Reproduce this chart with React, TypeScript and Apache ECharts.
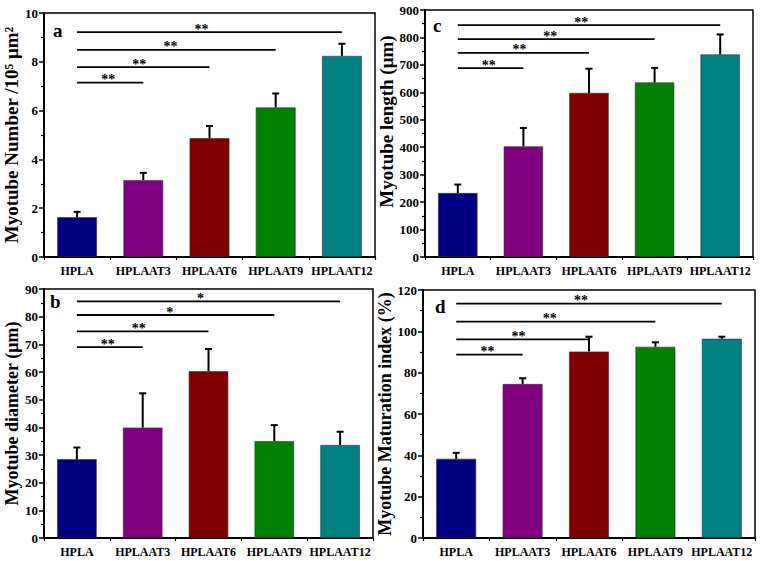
import React, { useEffect, useRef } from "react";
import * as echarts from "echarts";

const categories = ["HPLA", "HPLAAT3", "HPLAAT6", "HPLAAT9", "HPLAAT12"];
const barColors = ["#000080", "#800080", "#800000", "#008000", "#008080"];

// panel a: myotube number
const numberMean = [1.63, 3.15, 4.87, 6.13, 8.24];
const numberErr = [0.22, 0.3, 0.5, 0.57, 0.5];
const numberSigY = [7.15, 7.78, 8.49, 9.22];
const numberSigLabel = ["**", "**", "**", "**"];

// panel c: myotube length
const lengthMean = [233, 403, 598, 636, 738];
const lengthErr = [31, 67, 88, 53, 73];
const lengthSigY = [688, 744, 794, 845];
const lengthSigLabel = ["**", "**", "**", "**"];

// panel b: myotube diameter
const diameterMean = [28.5, 39.9, 60.3, 35.0, 33.6];
const diameterErr = [4.2, 12.4, 8.0, 5.8, 4.8];
const diameterSigY = [69.0, 74.7, 80.6, 85.5];
const diameterSigLabel = ["**", "**", "*", "*"];

// panel d: maturation index
const maturationMean = [38.3, 74.5, 90.2, 92.5, 96.4];
const maturationErr = [2.9, 2.8, 7.2, 2.2, 1.0];
const maturationSigY = [88.7, 96.1, 104.7, 113.4];
const maturationSigLabel = ["**", "**", "**", "**"];

// significance lines all start at HPLA (index 0) and end at these categories
const sigTargets = [1, 2, 3, 4];

const FONT = "Liberation Serif, Times New Roman, serif";

const panels = [
  {
    letter: "a", name: "Myotube Number /10\u2075 \u03bcm\u00b2",
    mean: numberMean, err: numberErr, sigY: numberSigY, sigLabel: numberSigLabel,
    max: 10, interval: 2,
    grid: { left: 44, top: 13, width: 331, height: 244 },
    nameGap: 18, nameSize: 19, namePad: [0, 0, 0, 0], letterPos: [53, 31],
  },
  {
    letter: "c", name: "Myotube length (\u03bcm)",
    mean: lengthMean, err: lengthErr, sigY: lengthSigY, sigLabel: lengthSigLabel,
    max: 900, interval: 100,
    grid: { left: 425, top: 10, width: 328, height: 247 },
    nameGap: 29, nameSize: 19, namePad: [0, 0, 0, 24], letterPos: [433, 26],
  },
  {
    letter: "b", name: "Myotube diameter (\u03bcm)",
    mean: diameterMean, err: diameterErr, sigY: diameterSigY, sigLabel: diameterSigLabel,
    max: 90, interval: 10,
    grid: { left: 44, top: 289, width: 329, height: 249 },
    nameGap: 20, nameSize: 18, namePad: [0, 0, 0, 0], letterPos: [50, 302],
  },
  {
    letter: "d", name: "Myotube Maturation index (%)",
    mean: maturationMean, err: maturationErr, sigY: maturationSigY, sigLabel: maturationSigLabel,
    max: 120, interval: 20,
    grid: { left: 423, top: 290, width: 332, height: 248 },
    nameGap: 28, nameSize: 18, namePad: [0, 0, 0, 0], letterPos: [435, 307],
  },
];

function buildOption() {
  const grid: any[] = [];
  const xAxis: any[] = [];
  const yAxis: any[] = [];
  const series: any[] = [];
  const graphic: any[] = [];

  panels.forEach((p, gi) => {
    grid.push({ ...p.grid, show: true, borderColor: "#000", borderWidth: 1.5, backgroundColor: "transparent" });
    xAxis.push({
      type: "category", gridIndex: gi, data: categories, position: "bottom",
      axisLine: { lineStyle: { color: "#000", width: 2 } },
      axisTick: { alignWithLabel: true, length: 5, lineStyle: { color: "#000", width: 1.5 } },
      axisLabel: { interval: 0, color: "#000", fontFamily: FONT, fontWeight: "bold", fontSize: 12, margin: 8 },
      splitLine: { show: false },
    });
    xAxis.push({
      type: "category", gridIndex: gi, data: categories, position: "bottom",
      axisLine: { show: false },
      axisTick: { show: true, interval: 0, length: 3, lineStyle: { color: "#000", width: 1.2 } },
      axisLabel: { show: false },
      splitLine: { show: false },
    });
    yAxis.push({
      type: "value", gridIndex: gi, min: 0, max: p.max, interval: p.interval,
      name: p.name, nameLocation: "middle", nameGap: p.nameGap,
      nameTextStyle: { color: "#000", fontFamily: FONT, fontWeight: "bold", fontSize: p.nameSize, padding: p.namePad },
      axisLine: { show: true, lineStyle: { color: "#000", width: 2 } },
      axisTick: { show: true, length: 5, lineStyle: { color: "#000", width: 1.5 } },
      minorTick: { show: true, splitNumber: 2, length: 3, lineStyle: { color: "#000", width: 1.2 } },
      axisLabel: { color: "#000", fontFamily: FONT, fontWeight: "bold", fontSize: 13, margin: 6 },
      splitLine: { show: false },
    });
    const xi = gi * 2;
    series.push({
      type: "bar", xAxisIndex: xi, yAxisIndex: gi, barWidth: "60%",
      data: p.mean.map((v, i) => ({ value: v, itemStyle: { color: barColors[i], borderColor: "#333", borderWidth: 0.6 } })),
    });
    series.push({
      type: "custom", xAxisIndex: xi, yAxisIndex: gi, clip: false, z: 5,
      encode: { x: 0, y: [1, 2] },
      data: p.mean.map((v, i) => [i, v, v + p.err[i]]),
      renderItem: (params: any, api: any) => {
        const i = api.value(0);
        const p0 = api.coord([i, api.value(1)]);
        const p1 = api.coord([i, api.value(2)]);
        const hw = 3.5;
        const st = { stroke: "#000", lineWidth: 2 };
        return {
          type: "group",
          children: [
            { type: "line", shape: { x1: p0[0], y1: p0[1], x2: p1[0], y2: p1[1] }, style: st },
            { type: "line", shape: { x1: p1[0] - hw, y1: p1[1], x2: p1[0] + hw, y2: p1[1] }, style: st },
          ],
        };
      },
    });
    series.push({
      type: "custom", xAxisIndex: xi, yAxisIndex: gi, clip: false, z: 5,
      encode: { x: [0, 1], y: 2 },
      data: sigTargets.map((t, k) => [0, t, p.sigY[k]]),
      renderItem: (params: any, api: any) => {
        const a = api.coord([api.value(0), api.value(2)]);
        const b = api.coord([api.value(1), api.value(2)]);
        const label = p.sigLabel[params.dataIndex];
        return {
          type: "group",
          children: [
            { type: "line", shape: { x1: a[0], y1: a[1], x2: b[0], y2: b[1] }, style: { stroke: "#000", lineWidth: 1.8 } },
            {
              type: "text", x: a[0] + (b[0] - a[0]) * 0.47, y: a[1] - 3,
              style: {
                text: label, fontFamily: FONT, fontWeight: "bold", fontSize: 14, fill: "#000",
                align: "center", verticalAlign: "middle",
              },
            },
          ],
        };
      },
    });
    graphic.push({
      type: "text", left: p.letterPos[0], top: p.letterPos[1] - 10,
      style: { text: p.letter, fontFamily: FONT, fontWeight: "bold", fontSize: 19, fill: "#000" },
    });
  });

  return { animation: false, backgroundColor: "#fff", grid, xAxis, yAxis, series, graphic };
}

export default function App() {
  const ref = useRef<HTMLDivElement>(null);
  useEffect(() => {
    if (!ref.current) return;
    const chart = echarts.init(ref.current, undefined, { renderer: "svg" });
    chart.setOption(buildOption() as any);
    return () => chart.dispose();
  }, []);
  return <div ref={ref} style={{ position: "absolute", left: 0, top: 0, width: 762, height: 561 }} />;
}
